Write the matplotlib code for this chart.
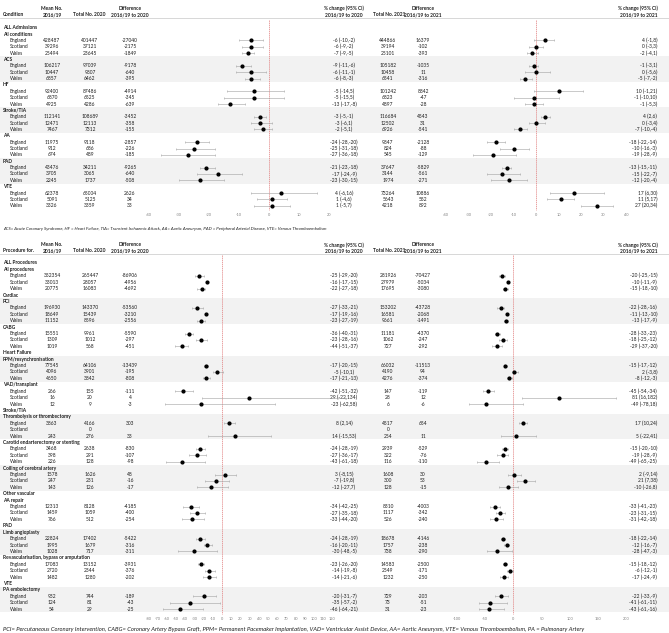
import matplotlib.pyplot as plt

plt.rcParams['font.family'] = ['Lato', 'DejaVu Sans']

W, H = 669, 633
FS = 3.5
TXT = '#1f1f1f'
BAND = '#f2f2f2'

nations = ["England", "Scotland", "Wales"]

# ---------------- admissions (top table) ----------------
adm_sections = [("ALL Admissions", ["All conditions", "ACS", "HF", "Stroke/TIA", "AA", "PAD", "VTE"])]
adm_mean = [[428487, 39296, 25494], [106217, 10447, 6857], [92400, 6870, 4925],
            [112141, 12471, 7467], [11975, 912, 674], [43476, 3705, 2245], [62378, 5091, 3326]]
adm_tot20 = [[401447, 37121, 23645], [97039, 9807, 6462], [87486, 6525, 4286],
             [108689, 12113, 7312], [9118, 686, 489], [34211, 3065, 1737], [65004, 5125, 3359]]
adm_diff20 = [[-27040, -2175, -1849], [-9178, -640, -395], [-4914, -345, -639],
              [-3452, -358, -155], [-2857, -226, -185], [-9265, -640, -508], [2626, 34, 33]]
adm_pct20 = [[(-6, -10, -2), (-6, -9, -2), (-7, -9, -5)],
             [(-9, -11, -6), (-6, -11, -1), (-6, -8, -3)],
             [(-5, -14, 5), (-5, -15, 5), (-13, -17, -8)],
             [(-3, -5, -1), (-3, -6, 1), (-2, -5, 1)],
             [(-24, -28, -20), (-25, -31, -18), (-27, -36, -18)],
             [(-21, -23, -18), (-17, -24, -9), (-23, -30, -15)],
             [(4, -6, 16), (1, -4, 6), (1, -5, 7)]]
adm_tot21 = [[444866, 39194, 25101], [105182, 10458, 6541], [101242, 6823, 4897],
             [116684, 12502, 6926], [9847, 824, 545], [37647, 3144, 1974], [73264, 5643, 4218]]
adm_diff21 = [[16379, -102, -393], [-1035, 11, -316], [8842, -47, -28],
              [4543, 31, -541], [-2128, -88, -129], [-5829, -561, -271], [10886, 552, 892]]
adm_pct21 = [[(4, -1, 8), (0, -3, 3), (-2, -4, 1)],
             [(-1, -3, 1), (0, -5, 6), (-5, -7, -2)],
             [(10, -1, 21), (-1, -10, 10), (-1, -5, 3)],
             [(4, 2, 6), (0, -3, 4), (-7, -10, -4)],
             [(-18, -22, -14), (-10, -16, -3), (-19, -28, -9)],
             [(-13, -15, -11), (-15, -22, -7), (-12, -20, -4)],
             [(17, 6, 30), (11, 5, 17), (27, 20, 34)]]

# ---------------- procedures (bottom table) ----------------
proc_sections = [("ALL Procedures", ["All procedures"]),
                 ("Cardiac", ["PCI", "CABG"]),
                 ("Heart Failure", ["PPM/resynchronisation", "VAD/transplant"]),
                 ("Stroke/TIA", ["Thrombolysis or thrombectomy", "Carotid endarterectomy or stenting",
                                 "Coiling of cerebral artery"]),
                 ("Other vascular", ["AA repair"]),
                 ("PAD", ["Limb angioplasty", "Revascularisation, bypass or amputation"]),
                 ("VTE", ["PA embolectomy"])]
proc_mean = [[352354, 33013, 20775], [196930, 18649, 11152], [15551, 1309, 1019],
             [77545, 4096, 4650], [266, 16, 12], [3863, None, 243], [3468, 398, 226],
             [1578, 247, 143], [12313, 1459, 766], [22824, 1995, 1028], [17083, 2720, 1482],
             [932, 124, 54]]
proc_tot20 = [[265447, 28057, 16083], [143370, 15439, 8596], [9961, 1012, 568],
              [64106, 3901, 3842], [155, 20, 9], [4166, 0, 276], [2638, 291, 128],
              [1626, 231, 126], [8128, 1059, 512], [17402, 1679, 717], [13152, 2344, 1280],
              [744, 81, 29]]
proc_diff20 = [[-86906, -4956, -4692], [-53560, -3210, -2556], [-5590, -297, -451],
               [-13439, -195, -808], [-111, 4, -3], [303, None, 33], [-830, -107, -98],
               [48, -16, -17], [-4185, -400, -254], [-5422, -316, -311], [-3931, -376, -202],
               [-189, -43, -25]]
proc_pct20 = [[(-25, -29, -20), (-16, -17, -15), (-22, -27, -18)],
              [(-27, -33, -21), (-17, -19, -16), (-23, -27, -19)],
              [(-36, -40, -31), (-23, -28, -16), (-44, -51, -37)],
              [(-17, -20, -15), (-5, -10, 1), (-17, -21, -13)],
              [(-42, -51, -32), (29, -22, 134), (-23, -62, 58)],
              [(8, 2, 14), None, (14, -15, 53)],
              [(-24, -28, -19), (-27, -36, -17), (-43, -61, -18)],
              [(3, -8, 15), (-7, -19, 8), (-12, -27, 7)],
              [(-34, -42, -25), (-27, -35, -18), (-33, -44, -20)],
              [(-24, -28, -19), (-16, -20, -11), (-30, -48, -5)],
              [(-23, -26, -20), (-14, -19, -8), (-14, -21, -6)],
              [(-20, -31, -7), (-35, -57, -2), (-46, -64, -21)]]
proc_tot21 = [[281926, 27979, 17695], [153202, 16581, 9661], [11181, 1062, 727],
              [66032, 4190, 4276], [147, 28, 6], [4517, 0, 254], [2939, 322, 116],
              [1608, 300, 128], [8310, 1117, 526], [18678, 1757, 738], [14583, 2549, 1232],
              [729, 73, 31]]
proc_diff21 = [[-70427, -5034, -3080], [-43728, -2068, -1491], [-4370, -247, -292],
               [-11513, 94, -374], [-119, 12, -6], [654, None, 11], [-529, -76, -110],
               [30, 53, -15], [-4003, -342, -240], [-4146, -238, -290], [-2500, -171, -250],
               [-203, -51, -23]]
proc_pct21 = [[(-20, -25, -15), (-10, -11, -9), (-15, -18, -10)],
              [(-22, -28, -16), (-11, -13, -10), (-13, -17, -9)],
              [(-28, -33, -23), (-18, -25, -12), (-29, -37, -20)],
              [(-15, -17, -12), (2, -3, 8), (-8, -12, -3)],
              [(-45, -54, -34), (81, 16, 182), (-49, -78, 18)],
              [(17, 10, 24), None, (5, -22, 41)],
              [(-15, -20, -10), (-19, -28, -9), (-49, -65, -25)],
              [(2, -9, 14), (21, 7, 38), (-10, -26, 8)],
              [(-33, -41, -23), (-23, -31, -15), (-31, -42, -18)],
              [(-18, -22, -14), (-12, -16, -7), (-28, -47, -3)],
              [(-15, -18, -12), (-6, -12, -1), (-17, -24, -9)],
              [(-22, -33, -9), (-41, -61, -11), (-43, -61, -16)]]

adm_ticks20 = [-40, -30, -20, -10, 0, 10, 20]
adm_ticks21 = [-40, -30, -20, -10, 0, 10, 20, 30, 40]
proc_ticks20 = list(range(-80, 121, 10))
proc_ticks21 = [-100, -50, 0, 50, 100, 150, 200]

adm_note = ("ACS= Acute Coronary Syndrome, HF = Heart Failure, TIA= Transient Ischaemic Attack, "
            "AA= Aortic Aneurysm, PAD = Peripheral Arterial Disease, VTE= Venous Thromboembolism")
proc_note = ("PCI= Percutaneous Coronary Intervention, CABG= Coronary Artery Bypass Graft, "
             "PPM= Permanent Pacemaker Implantation, VAD= Ventricular Assist Device, "
             "AA= Aortic Aneurysm, VTE= Venous Thromboembolism, PA = Pulmonary Artery")

fig = plt.figure(figsize=(W / 100, H / 100), dpi=100)
bg = fig.add_axes([0, 0, 1, 1])
bg.set_xlim(0, W)
bg.set_ylim(H, 0)
bg.axis('off')


def txt(x, y, s, ha='center', **kw):
    kw.setdefault('fontsize', FS)
    kw.setdefault('color', TXT)
    bg.text(x, y, s, ha=ha, va='center', **kw)


def fmt_pct(p):
    return '' if p is None else f"{p[0]} ({p[1]},{p[2]})"


def fmt_num(v):
    return '' if v is None else str(v)


def forest_axes(zero_px, ppu, xmin, xmax, y0, dy):
    ax = fig.add_axes([(zero_px + xmin * ppu) / W, 0, (xmax - xmin) * ppu / W, 1])
    ax.set_xlim(xmin, xmax)
    ax.set_ylim((H - y0) / dy, -y0 / dy)
    ax.axis('off')
    return ax


def header(y1, y2, first):
    txt(3, y2, first, ha='left', weight='bold')
    txt(52, y1, "Mean No.", weight='bold')
    txt(52, y2, "2016/19", weight='bold')
    txt(89, y2, "Total No. 2020", weight='bold')
    txt(130, y1, "Difference", weight='bold')
    txt(130, y2, "2016/19 to 2020", weight='bold')
    txt(344, y1, "% change (95% CI)", weight='bold')
    txt(344, y2, "2016/19 to 2020", weight='bold')
    txt(389, y2, "Total No. 2021", weight='bold')
    txt(423, y1, "Difference", weight='bold')
    txt(423, y2, "2016/19 to 2021", weight='bold')
    txt(658, y1, "% change (95% CI)", ha='right', weight='bold')
    txt(658, y2, "2016/19 to 2021", ha='right', weight='bold')
    bg.plot([0, W], [y2 + 3.3, y2 + 3.3], color='#c8c8c8', lw=0.5)


def panel(y0, dy, sections, mean, tot20, diff20, pct20, tot21, diff21, pct21,
          f20, f21, ticks20, ticks21):
    ax20 = forest_axes(*f20, y0, dy)
    ax21 = forest_axes(*f21, y0, dy)
    row = 0
    gi = 0
    for section, subs in sections:
        txt(3, y0 + row * dy, section, ha='left', weight='bold')
        row += 1
        for sub in subs:
            y = y0 + row * dy
            # alternate sub-groups get a grey band
            if gi % 2:
                bg.axhspan(y - dy / 2, y + 3.5 * dy, color=BAND, lw=0, zorder=0)
            txt(3, y, sub, ha='left', weight='bold')
            row += 1
            for k, nation in enumerate(nations):
                y = y0 + row * dy
                txt(10, y, nation, ha='left')
                txt(52, y, fmt_num(mean[gi][k]))
                txt(90, y, fmt_num(tot20[gi][k]))
                txt(130, y, fmt_num(diff20[gi][k]))
                txt(344, y, fmt_pct(pct20[gi][k]))
                txt(388, y, fmt_num(tot21[gi][k]))
                txt(423, y, fmt_num(diff21[gi][k]))
                txt(657, y, fmt_pct(pct21[gi][k]), ha='right')
                for ax, p in ((ax20, pct20[gi][k]), (ax21, pct21[gi][k])):
                    if p is None:
                        continue
                    ax.errorbar(p[0], row, xerr=[[p[0] - p[1]], [p[2] - p[0]]], fmt='o',
                                ms=2.0, mfc='black', mec='black', ecolor='#a0a0a0',
                                elinewidth=0.4, capsize=0.9, capthick=0.4, zorder=3)
                row += 1
            gi += 1
    for ax, ticks in ((ax20, ticks20), (ax21, ticks21)):
        ax.plot([0, 0], [-1.2, row - 0.3], color='#e07b7b', lw=0.5, ls=(0, (2, 1)), zorder=2)
        for t in ticks:
            ax.text(t, row + 0.5, str(t), ha='center', va='center', fontsize=2.8, color='#808080')
    return row


# top: admissions
header(8, 15, "Condition")
panel(27.7, 6.36, adm_sections, adm_mean, adm_tot20, adm_diff20, adm_pct20,
      adm_tot21, adm_diff21, adm_pct21,
      (269, 3.0, -45, 25), (536, 2.25, -45, 45), adm_ticks20, adm_ticks21)
txt(3, 229, adm_note, ha='left', style='italic', fontsize=3.15)

# bottom: procedures
header(245, 251, "Procedure for.")
panel(263, 6.41, proc_sections, proc_mean, proc_tot20, proc_diff20, proc_pct20,
      proc_tot21, proc_diff21, proc_pct21,
      (222, 0.92, -85, 140), (513.3, 0.565, -105, 210), proc_ticks20, proc_ticks21)
txt(3, 629, proc_note, ha='left', style='italic', fontsize=4.2)

fig.savefig('out.png', dpi=100)
